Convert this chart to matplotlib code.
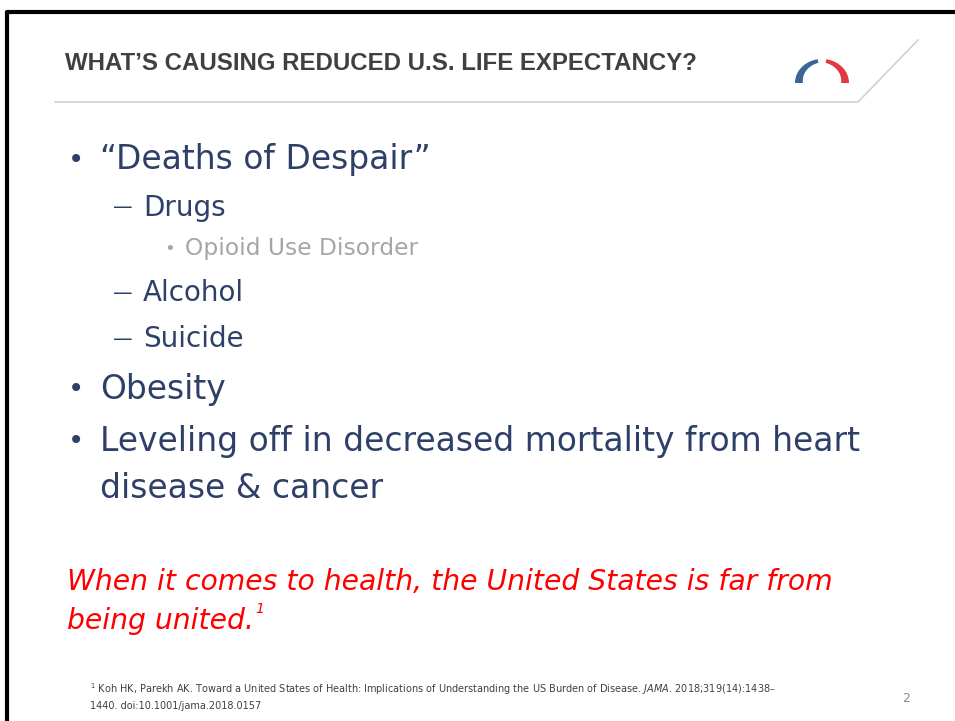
import numpy as np
import matplotlib
matplotlib.use('Agg')
import matplotlib.pyplot as plt
from matplotlib.patches import Polygon

# slide text content
title = "WHAT\u2019S CAUSING REDUCED U.S. LIFE EXPECTANCY?"
bullet_levels = [0, 1, 2, 1, 1, 0, 0, None]
bullet_texts = ["\u201cDeaths of Despair\u201d", "Drugs", "Opioid Use Disorder",
                "Alcohol", "Suicide", "Obesity",
                "Leveling off in decreased mortality from heart",
                "disease & cancer"]
quote_lines = ["When it comes to health, the United States is far from",
               "being united."]
footnote_lines = ["Koh HK, Parekh AK. Toward a United States of Health: Implications of Understanding the US Burden of Disease. $\\it{JAMA}$. 2018;319(14):1438\u2013",
                  "1440. doi:10.1001/jama.2018.0157"]
page_no = "2"

NAVY = '#2f4068'
GREY = '#a6a6a6'
DARK = '#404040'

fig = plt.figure(figsize=(9.55, 7.21), dpi=100)
ax = fig.add_axes([0, 0, 1, 1])
ax.set_xlim(0, 955)
ax.set_ylim(721, 0)
ax.axis('off')

# slide frame (left + top edge)
ax.plot([7, 7, 955], [721, 12, 12], color='black', lw=3, solid_capstyle='butt')

# header rule with slanted end
ax.plot([55, 858, 918], [102, 102, 40], color='#d0d0d0', lw=1.2)
ax.text(65, 64, title, fontsize=17.3, fontweight='bold', color=DARK,
        family='Liberation Sans', va='center', ha='left')

# logo: two arch halves, a bit thicker at the foot
def arch(t0, t1, color):
    t = np.radians(np.linspace(t0, t1, 40))
    w = np.linspace(8, 4, 40)
    outer = np.c_[822 + 27 * np.cos(t), 83 - 24 * np.sin(t)]
    inner = np.c_[822 + (27 - w) * np.cos(t), 83 - (24 - w * 0.9) * np.sin(t)]
    ax.add_patch(Polygon(np.vstack([outer, inner[::-1]]), closed=True, color=color, lw=0))
arch(180, 99, '#3b6498')
arch(0, 81, '#e2383f')

# bullet list
styles = {
    0: dict(mark='\u2022', mx=68, tx=100, size=23.7, color=NAVY, msize=20),
    1: dict(mark='\u2014', mx=113, tx=143, size=20, color=NAVY, msize=14),
    2: dict(mark='\u2022', mx=164, tx=185, size=16.8, color=GREY, msize=13),
}
ys = [160, 208, 249, 293, 339, 389, 441, 488]
for lvl, txt, y in zip(bullet_levels, bullet_texts, ys):
    st = styles[lvl if lvl is not None else 0]
    if lvl is not None:
        ax.text(st['mx'], y, st['mark'], fontsize=st['msize'], color=st['color'],
                va='center', ha='left', family='DejaVu Sans')
    ax.text(st['tx'], y, txt, fontsize=st['size'], color=st['color'],
            va='center', ha='left', family='DejaVu Sans')

# red quote
for i, line in enumerate(quote_lines):
    ax.text(67, 582 + 39 * i, line, fontsize=20.3, color='#ff0000', style='italic',
            va='center', ha='left', family='DejaVu Sans')
ax.text(255, 609, '1', fontsize=10, color='#ff0000', style='italic',
        va='center', ha='left', family='DejaVu Sans')

# footnote
ax.text(90, 689, '$^1$ ' + footnote_lines[0], fontsize=7, color=DARK,
        va='center', ha='left', family='Liberation Sans Narrow')
ax.text(90, 706, footnote_lines[1], fontsize=7, color=DARK,
        va='center', ha='left', family='Liberation Sans Narrow')
ax.text(906, 698, page_no, fontsize=9, color='#8c8c8c', va='center', ha='center',
        family='Liberation Sans Narrow')

fig.savefig('out.png', dpi=100)
